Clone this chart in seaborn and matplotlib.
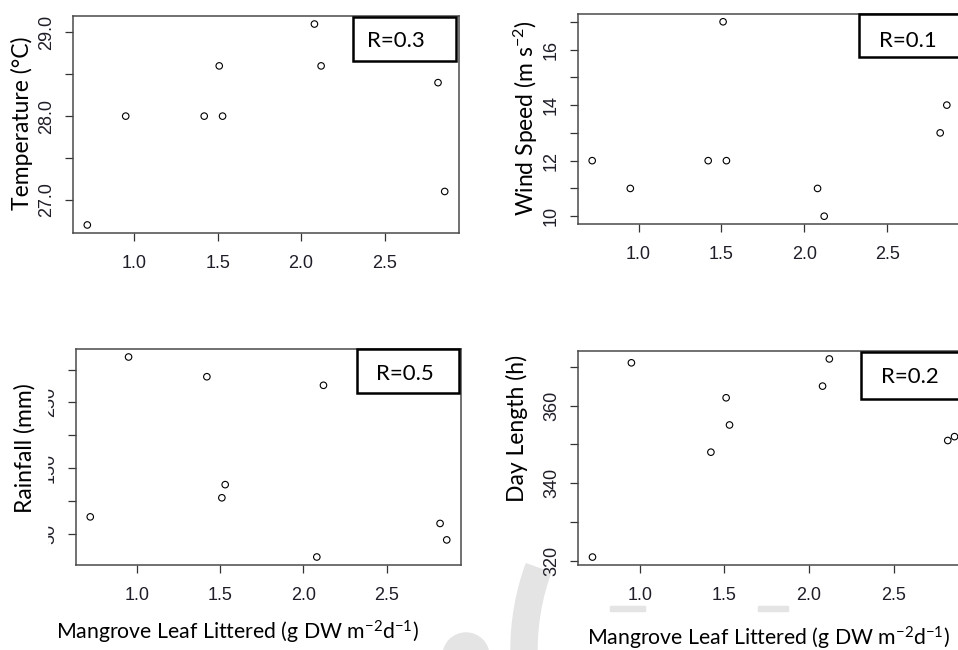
import matplotlib
matplotlib.use("Agg")
import matplotlib.pyplot as plt
import matplotlib.patches as mpatches
from matplotlib.transforms import IdentityTransform
import seaborn as sns
import pandas as pd

# ---------------- data ----------------
litter = [0.72, 0.95, 1.42, 1.51, 1.53, 2.08, 2.12, 2.82, 2.86]
temperature = [26.7, 28.0, 28.0, 28.6, 28.0, 29.1, 28.6, 28.4, 27.1]
wind = [12, 11, 12, 17, 12, 11, 10, 13, 14]
rainfall = [76, 319, 289, 105, 125, 15, 276, 66, 41]
daylength = [321, 371, 348, 362, 355, 365, 372, 351, 352]

x_ticks = [1.0, 1.5, 2.0, 2.5]
x_ticklabels = ["1.0", "1.5", "2.0", "2.5"]
temp_ticks = [27.0, 27.5, 28.0, 28.5, 29.0]
temp_labels = ["27.0", "", "28.0", "", "29.0"]
wind_ticks = [10, 11, 12, 13, 14, 15, 16, 17]
wind_labels = ["10", "", "12", "", "14", "", "16", ""]
rain_ticks = [50, 100, 150, 200, 250, 300]
rain_labels = ["50", "", "150", "", "250", ""]
day_ticks = [320, 330, 340, 350, 360, 370]
day_labels = ["320", "", "340", "", "360", ""]
r_values = ["R=0.3", "R=0.1", "R=0.5", "R=0.2"]

df = pd.DataFrame({"litter": litter, "temp": temperature, "wind": wind,
                   "rain": rainfall, "day": daylength})

# ---------------- style ----------------
sns.set_theme(style="ticks")
plt.rcParams["font.family"] = ["Lato", "DejaVu Sans"]
plt.rcParams["mathtext.fontset"] = "custom"
plt.rcParams["mathtext.rm"] = "Lato"
plt.rcParams["mathtext.it"] = "Lato:italic"
plt.rcParams["mathtext.bf"] = "Lato:bold"

W, H = 958, 650
fig = plt.figure(figsize=(W / 100, H / 100), dpi=100)
fig.patch.set_facecolor("white")


def rect(L, R, T, B):
    return [L / W, 1 - B / H, (R - L) / W, (B - T) / H]


def fx(px):
    return px / W


def fy(py):
    return 1 - py / H


# faint watermark behind the panels
wm = "#e4e4e4"
fig.patches.append(mpatches.Wedge((763, 0), 252, 160, 200, width=26,
                                  transform=IdentityTransform(), color=wm, zorder=-2))
fig.patches.append(mpatches.Circle((466, -6), 23, transform=IdentityTransform(),
                                   color=wm, zorder=-2))
fig.patches.append(mpatches.Rectangle((610, 39), 35, 5, transform=IdentityTransform(),
                                      color=wm, zorder=-2))
fig.patches.append(mpatches.Rectangle((758, 39), 30, 5, transform=IdentityTransform(),
                                      color=wm, zorder=-2))

panels = [
    dict(pos=(73, 459, 16, 233), y="temp", ticks=temp_ticks, labels=temp_labels),
    dict(pos=(578, 961, 14, 224), y="wind", ticks=wind_ticks, labels=wind_labels),
    dict(pos=(76, 461, 349, 565), y="rain", ticks=rain_ticks, labels=rain_labels),
    dict(pos=(578, 969, 351, 565), y="day", ticks=day_ticks, labels=day_labels),
]

tick_font = ["Liberation Sans", "DejaVu Sans"]
tick_color = "#1e1e28"
axes = []
for p in panels:
    ax = fig.add_axes(rect(*p["pos"]))
    ax.set_facecolor("white")
    sns.scatterplot(data=df, x="litter", y=p["y"], ax=ax, marker="o", s=22,
                    facecolor="none", edgecolor="black", linewidth=0.8)
    ax.margins(x=0.04, y=0.04)
    ax.set_xticks(x_ticks)
    ax.set_xticklabels(x_ticklabels)
    ax.set_yticks(p["ticks"])
    ax.set_yticklabels(p["labels"])
    ax.set_xlabel("")
    ax.set_ylabel("")
    for s in ax.spines.values():
        s.set_color("#4a4a4a")
        s.set_linewidth(1.1)
        s.set_visible(True)
    ax.tick_params(axis="both", direction="out", length=6, width=0.9, color="#333333",
                   labelcolor=tick_color, labelsize=13)
    ax.tick_params(axis="x", pad=10)
    ax.tick_params(axis="y", pad=7, labelrotation=90)
    for lab in ax.get_xticklabels() + ax.get_yticklabels():
        lab.set_family(tick_font)
    for lab in ax.get_yticklabels():
        lab.set_va("center")
    axes.append(ax)

# white patch that hides the left part of the Rainfall tick labels
fig.patches.append(mpatches.Rectangle((fx(0), fy(560)), fx(47), 205 / H,
                                      transform=fig.transFigure, color="white", zorder=5))

# y labels
lab_kw = dict(rotation=90, ha="center", va="center", fontsize=16.5, color="black", zorder=6)
fig.text(fx(22), fy(123), "Temperature (°C)", **lab_kw)
fig.text(fx(526), fy(118), "Wind Speed (m s$^{-2}$)", **lab_kw)
fig.text(fx(25), fy(448), "Rainfall (mm)", **lab_kw)
fig.text(fx(517), fy(428), "Day Length (h)", **lab_kw)

# x labels
xl = "Mangrove Leaf Littered (g DW m$^{-2}$d$^{-1}$)"
fig.text(fx(237), fy(632), xl, ha="center", va="center", fontsize=15.3, color="black")
fig.text(fx(768), fy(638), xl, ha="center", va="center", fontsize=15.3, color="black")

# R value boxes
boxes = [
    ((353, 456, 17, 61), (396, 41)),
    ((859, 990, 14, 57), (908, 41)),
    ((357, 459, 349, 393), (405, 374)),
    ((861, 990, 352, 399), (910, 377)),
]
for (L, R, T, B), (tx, ty), txt in zip([b[0] for b in boxes], [b[1] for b in boxes], r_values):
    fig.patches.append(mpatches.Rectangle((fx(L), fy(B)), (R - L) / W, (B - T) / H,
                                          transform=fig.transFigure, facecolor="white",
                                          edgecolor="black", linewidth=1.8, zorder=7))
    fig.text(fx(tx), fy(ty), txt, ha="center", va="center", fontsize=16,
             color="black", zorder=8)

fig.savefig("out.png", dpi=100, facecolor="white")
